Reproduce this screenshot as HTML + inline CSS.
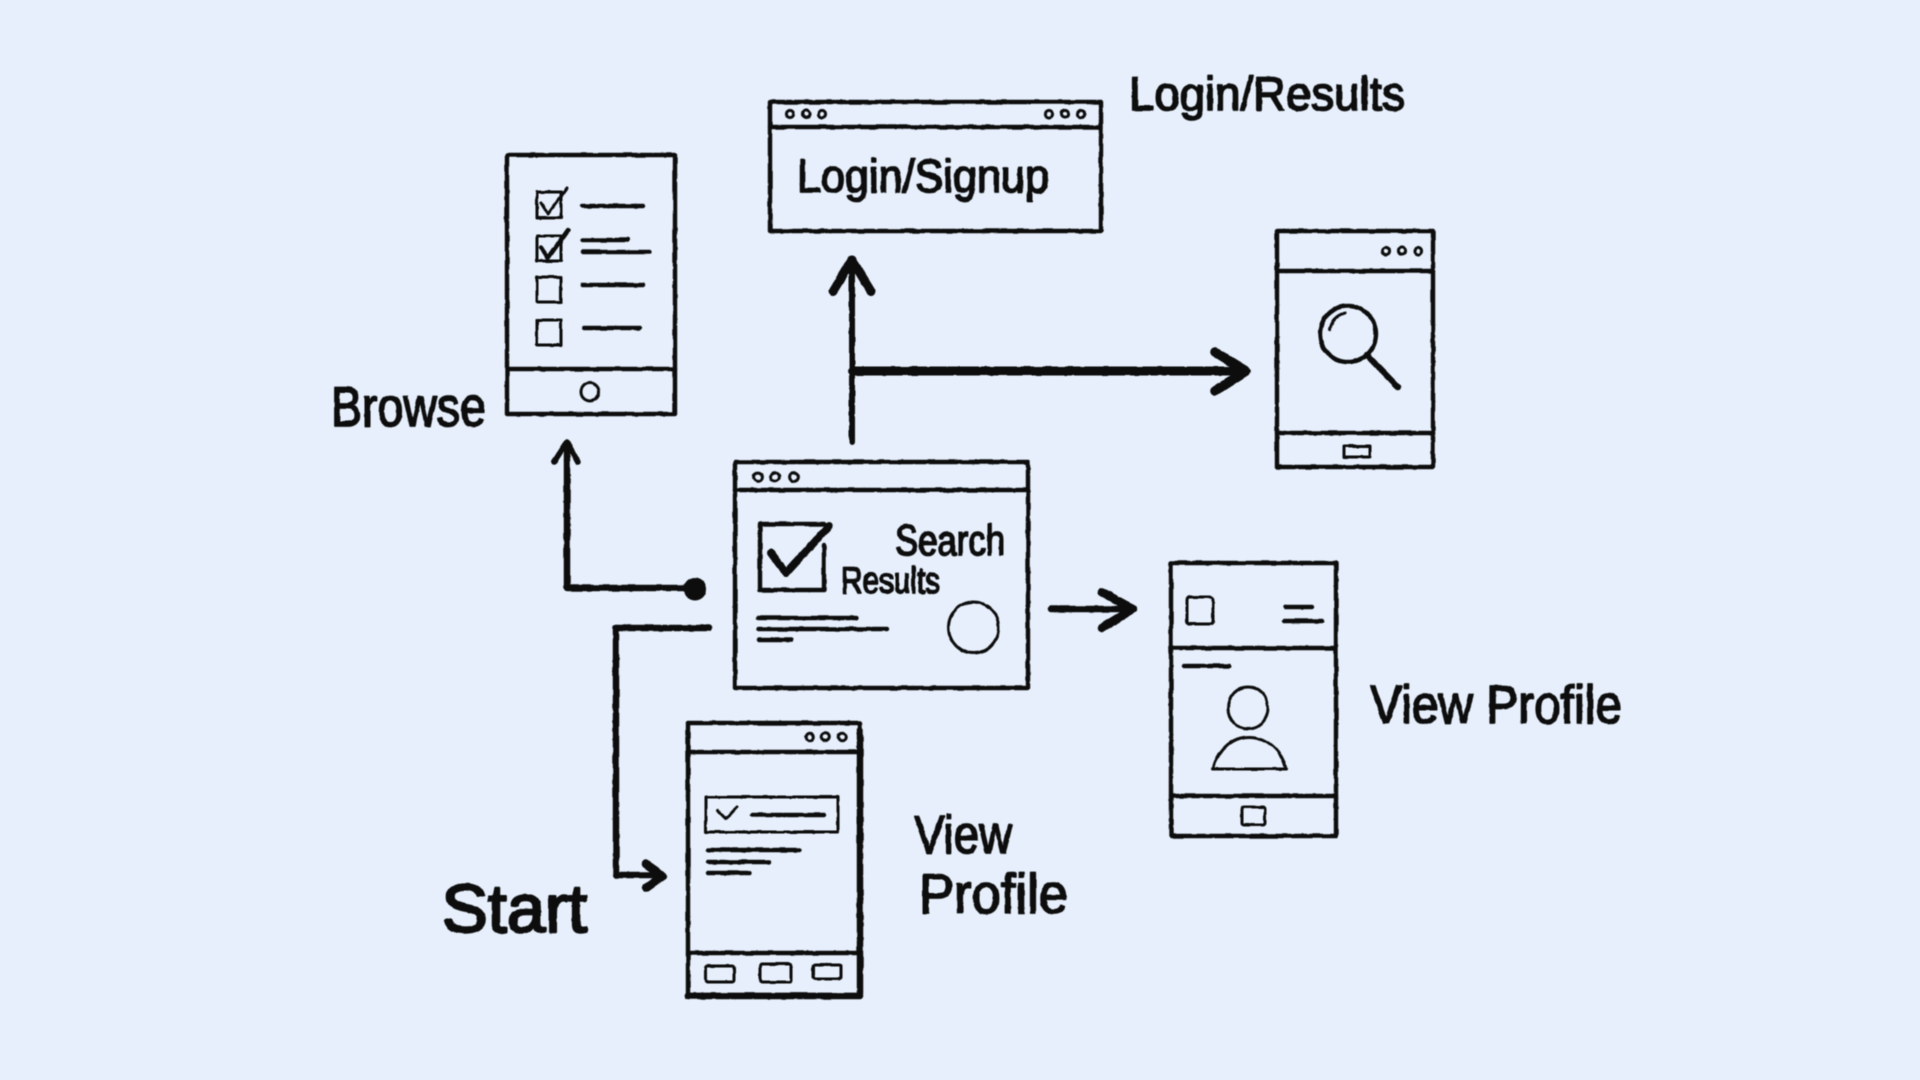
<!DOCTYPE html>
<html><head><meta charset="utf-8"><title>Flow diagram</title>
<style>
html,body{margin:0;padding:0;background:#e6effb;width:1920px;height:1080px;overflow:hidden}
svg{display:block}
text{font-family:"Liberation Sans",sans-serif;fill:#0e0e0e;stroke:#0e0e0e;stroke-width:1.7;stroke-linejoin:round;font-weight:400}
.b{fill:none;stroke:#0e0e0e;stroke-width:4.4;stroke-linecap:round;stroke-linejoin:round}
.t{fill:none;stroke:#111;stroke-width:3;stroke-linecap:round;stroke-linejoin:round}
.f{fill:none;stroke:#0e0e0e;stroke-linecap:round;stroke-linejoin:round}
</style></head><body>
<svg width="1920" height="1080" viewBox="0 0 1920 1080" xmlns="http://www.w3.org/2000/svg">
<defs><filter id="r" x="0" y="0" width="1920" height="1080" filterUnits="userSpaceOnUse" primitiveUnits="userSpaceOnUse">
<feTurbulence type="fractalNoise" baseFrequency="0.09" numOctaves="2" seed="4"/>
<feDisplacementMap in="SourceGraphic" scale="2.2" xChannelSelector="R" yChannelSelector="G"/>
<feGaussianBlur stdDeviation="0.6"/></filter></defs>
<rect width="1920" height="1080" fill="#e6effb"/>
<g filter="url(#r)">
<!-- Login window -->
<rect class="b" x="770" y="102" width="331" height="129"/>
<path class="b" d="M770 127H1101"/>
<g class="t"><circle cx="790" cy="114" r="3.6"/><circle cx="806" cy="114" r="3.6"/><circle cx="822" cy="114" r="3.6"/><circle cx="1049" cy="114" r="3.6"/><circle cx="1065" cy="114" r="3.6"/><circle cx="1081" cy="114" r="3.6"/></g>
<text x="797" y="192" font-size="46" textLength="252" lengthAdjust="spacingAndGlyphs">Login/Signup</text>
<text x="1129" y="110" font-size="47" textLength="276" lengthAdjust="spacingAndGlyphs">Login/Results</text>

<!-- Browse phone -->
<rect class="b" x="507" y="155" width="168" height="259"/>
<path class="b" stroke-width="5" d="M507 369H675"/>
<circle class="t" cx="590" cy="392" r="9"/>
<g class="t"><rect x="537" y="192" width="24" height="26"/><rect x="537" y="236" width="24" height="25"/><rect x="537" y="277" width="24" height="25"/><rect x="537" y="320" width="24" height="25"/></g>
<path class="t" d="M541 203L548 214L567 188"/>
<path class="b" d="M541 247L548 258L568 230"/>
<path class="b" stroke-width="3" d="M582 206H643M583 240H628M583 252H649M582 285H643M584 328H640"/>
<text x="331" y="426" font-size="56" textLength="155" lengthAdjust="spacingAndGlyphs">Browse</text>

<!-- Search phone -->
<rect class="b" x="1277" y="231" width="156" height="236"/>
<path class="b" d="M1277 271H1433M1277 433H1433"/>
<g class="t"><circle cx="1386" cy="251" r="3.6"/><circle cx="1402" cy="251" r="3.6"/><circle cx="1418" cy="251" r="3.6"/></g>
<rect class="t" x="1344" y="446" width="26" height="11"/>
<circle class="b" cx="1348" cy="334" r="28"/>
<path class="t" d="M1330 330Q1332 317 1345 313" stroke-width="2"/>
<path class="f" stroke-width="6.5" d="M1367 355L1398 387"/>

<!-- Arrows top -->
<path class="f" stroke-width="6" d="M852 442V262"/>
<path class="f" stroke-width="9" d="M833 291L852 260L871 291"/>
<path class="f" stroke-width="9" d="M852 371H1244"/>
<path class="f" stroke-width="9.5" d="M1215 352L1246 371L1215 391"/>

<!-- Browse arrow -->
<path class="f" stroke-width="6.5" d="M567 445V588H694"/>
<path class="f" stroke-width="5.5" d="M554 462L567 442L578 462"/>
<circle cx="695" cy="589" r="11.5" fill="#0e0e0e"/>

<!-- Search window -->
<rect class="b" x="735" y="462" width="293" height="226" stroke-width="5"/>
<path class="b" d="M735 490H1028"/>
<g class="t"><circle cx="758" cy="477" r="4.4"/><circle cx="775" cy="477" r="4.4"/><circle cx="794" cy="477" r="4.4"/></g>
<path class="b" stroke-width="5" d="M824 524H760V590H824V545"/>
<path class="f" stroke-width="8" d="M771 553L786 573L829 526"/>
<text x="895" y="555" font-size="43" textLength="110" lengthAdjust="spacingAndGlyphs">Search</text>
<text x="841" y="593" font-size="37" textLength="99" lengthAdjust="spacingAndGlyphs">Results</text>
<path class="b" stroke-width="3" d="M758 618H856M758 629H887M759 640H791"/>
<ellipse class="t" cx="973.5" cy="627.5" rx="25" ry="25.5"/>

<!-- Right arrow -->
<path class="f" stroke-width="6.5" d="M1051 609H1130"/>
<path class="f" stroke-width="8.5" d="M1102 592L1133 609L1102 628"/>

<!-- Profile phone -->
<rect class="b" x="1171" y="563" width="165" height="273"/>
<path class="b" d="M1171 648H1336M1171 796H1336"/>
<rect class="t" x="1187" y="597" width="26" height="27" rx="3"/>
<path class="b" stroke-width="3" d="M1285 607H1312M1284 621H1322M1184 666H1229"/>
<ellipse class="t" cx="1248" cy="708" rx="20" ry="21"/>
<path class="t" d="M1213 769C1219 748 1234 737 1249 737C1265 737 1281 748 1286 769Z"/>
<rect class="t" x="1242" y="807" width="23" height="18" rx="2"/>
<text x="1370" y="723" font-size="54" textLength="252" lengthAdjust="spacingAndGlyphs">View Profile</text>

<!-- Start arrow -->
<path class="f" stroke-width="6.5" d="M709 628H616V875H660"/>
<path class="f" stroke-width="8.5" d="M646 864L663 876L646 888"/>
<text x="442" y="932" font-size="68" textLength="145" lengthAdjust="spacingAndGlyphs" style="stroke-width:2.4">Start</text>

<!-- Bottom phone -->
<rect class="b" x="688" y="723" width="172" height="272"/>
<path class="f" stroke-width="6.5" d="M860 730V994M688 996H860"/>
<path class="b" d="M688 752H860M688 953H860"/>
<g class="t"><circle cx="810" cy="737" r="3.8"/><circle cx="825" cy="737" r="3.8"/><circle cx="842" cy="737" r="3.8"/></g>
<rect class="t" x="706" y="797" width="132" height="35"/>
<path class="t" d="M717 810L726 819L737 807"/>
<path class="b" stroke-width="3" d="M752 815H824M708 850H799M708 862H769M708 873H750"/>
<rect class="t" x="706" y="966" width="28" height="16" rx="2"/>
<rect class="t" x="760" y="964" width="31" height="18" rx="2"/>
<rect class="t" x="813" y="965" width="28" height="14" rx="2"/>
<text x="914" y="853" font-size="54" textLength="98" lengthAdjust="spacingAndGlyphs">View</text>
<text x="919" y="913" font-size="56" textLength="149" lengthAdjust="spacingAndGlyphs">Profile</text>
</g>
</svg>
</body></html>
